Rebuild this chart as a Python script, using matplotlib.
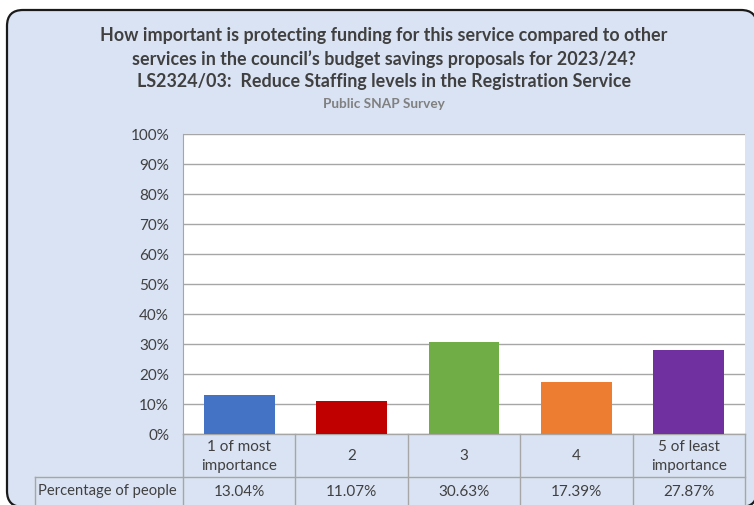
import matplotlib.pyplot as plt
from matplotlib.patches import FancyBboxPatch
from matplotlib.transforms import blended_transform_factory

plt.rcParams['font.family'] = ['Lato', 'DejaVu Sans']

categories = ['1 of most\nimportance', '2', '3', '4', '5 of least\nimportance']
values = [13.04, 11.07, 30.63, 17.39, 27.87]
value_labels = ['13.04%', '11.07%', '30.63%', '17.39%', '27.87%']
colors = ['#4472c4', '#c00000', '#70ad47', '#ed7d31', '#7030a0']
row_label = 'Percentage of people'

W, H = 754, 506
bg = '#dae3f3'
txt = '#404040'
grid_c = '#a6a6a6'

fig = plt.figure(figsize=(W / 100, H / 100), dpi=100)
fig.patch.set_facecolor('white')

# background axes in pixel units for the rounded chart box
bgax = fig.add_axes([0, 0, 1, 1], zorder=-5)
bgax.set_xlim(0, W)
bgax.set_ylim(H, 0)
bgax.axis('off')
box = FancyBboxPatch((7, 11), 750, 497,
                     boxstyle='round,pad=0,rounding_size=16',
                     facecolor=bg, edgecolor='#1a1a1a', linewidth=1.6)
bgax.add_patch(box)

# plot area in pixels
x0, x1, ytop, ybot = 183, 745, 135, 435
ax = fig.add_axes([x0 / W, 1 - ybot / H, (x1 - x0) / W, (ybot - ytop) / H])
ax.set_facecolor('white')

xs = list(range(len(values)))
ax.bar(xs, values, width=0.63, color=colors, zorder=3)
ax.set_xlim(-0.5, len(values) - 0.5)
ax.set_ylim(0, 100)
ax.set_yticks(range(0, 101, 10))
ax.set_yticklabels([f'{v}%' for v in range(0, 101, 10)], fontsize=11, color=txt)
ax.yaxis.grid(True, color=grid_c, linewidth=1, zorder=0)
ax.tick_params(axis='y', length=0, pad=10)
ax.set_xticks([])
for s in ['top', 'right', 'bottom']:
    ax.spines[s].set_visible(False)
ax.spines['left'].set_color(grid_c)

# data table under the axis
tr = blended_transform_factory(ax.transData, ax.transAxes)
px = (x1 - x0) / len(values)          # pixels per category
h = ybot - ytop
r1 = -(478 - ybot) / h
r2 = -(508 - ybot) / h
xl = -0.5 - (x0 - 35) / px

line_kw = dict(color=grid_c, linewidth=1, transform=tr, clip_on=False)
ax.plot([-0.5, len(values) - 0.5], [0, 0], **line_kw)
ax.plot([xl, len(values) - 0.5], [r1, r1], **line_kw)
ax.plot([xl, len(values) - 0.5], [r2, r2], **line_kw)
for k in range(len(values) + 1):
    ax.plot([k - 0.5, k - 0.5], [0, r2], **line_kw)
ax.plot([xl, xl], [r1, r2], **line_kw)

for i, (c, lab) in enumerate(zip(categories, value_labels)):
    ax.text(i, r1 / 2, c, transform=tr, ha='center', va='center',
            fontsize=11, color=txt, linespacing=1.4, clip_on=False)
    ax.text(i, (r1 + r2) / 2 + 0.005, lab, transform=tr, ha='center', va='center',
            fontsize=11, color=txt, clip_on=False)
ax.text(xl + 0.025, (r1 + r2) / 2 + 0.005, row_label, transform=tr, ha='left', va='center',
        fontsize=10.6, color=txt, clip_on=False)

# titles
cx = 384 / W
fig.text(cx, 1 - 36 / H, 'How important is protecting funding for this service compared to other',
         ha='center', va='center', fontsize=12.9, fontweight='bold', color=txt)
fig.text(cx, 1 - 59 / H, 'services in the council\u2019s budget savings proposals for 2023/24?',
         ha='center', va='center', fontsize=12.9, fontweight='bold', color=txt)
fig.text(cx, 1 - 82 / H, 'LS2324/03:  Reduce Staffing levels in the Registration Service',
         ha='center', va='center', fontsize=12.9, fontweight='bold', color=txt)
fig.text(cx, 1 - 104 / H, 'Public SNAP Survey',
         ha='center', va='center', fontsize=9.8, fontweight='bold', color='#808080')

fig.savefig('out.png', dpi=100)
